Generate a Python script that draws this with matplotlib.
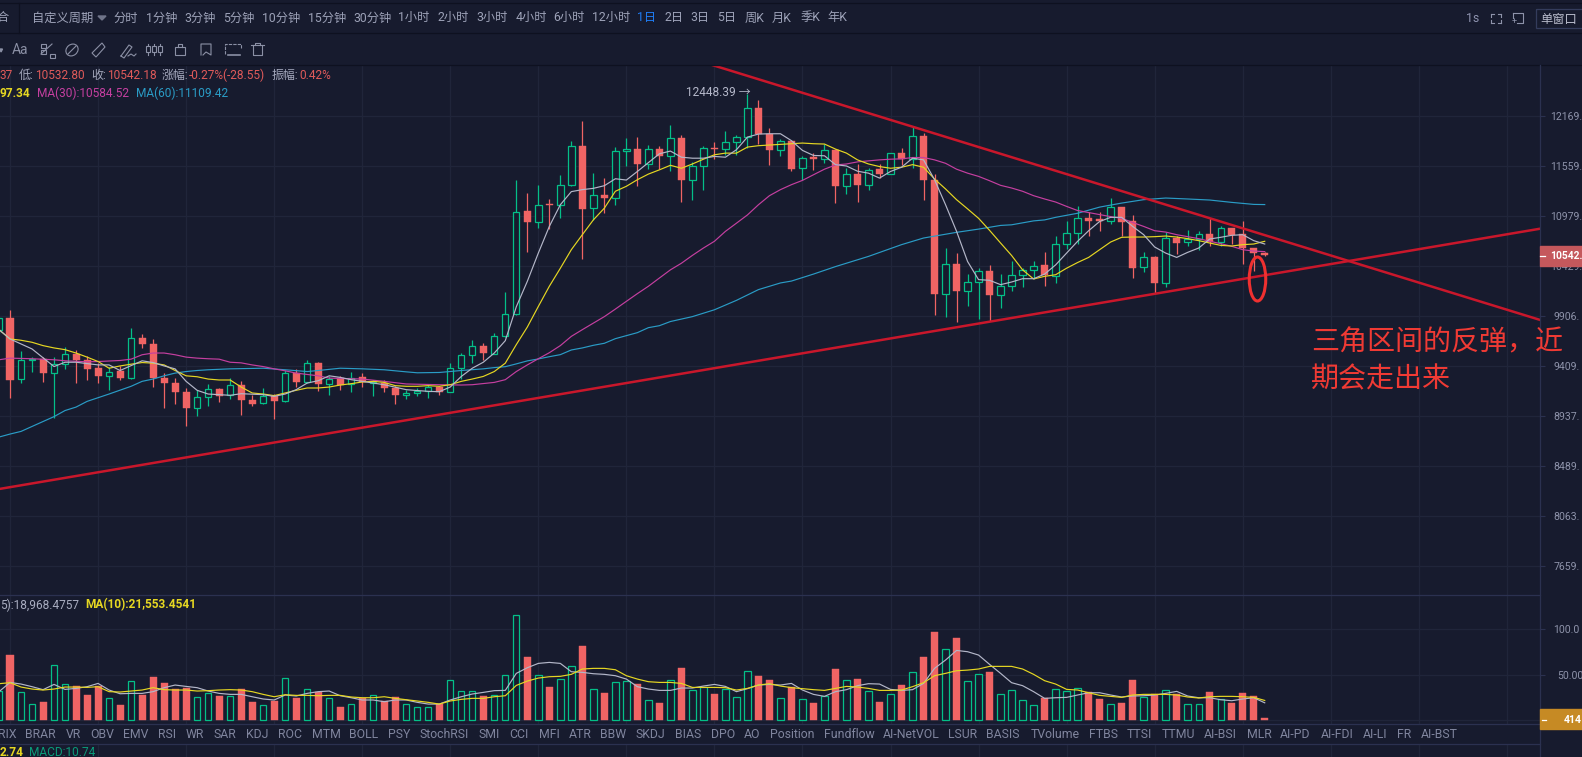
import matplotlib
matplotlib.use('Agg')
import matplotlib.pyplot as plt
from matplotlib.patches import Ellipse, Rectangle, Polygon
from matplotlib.ticker import NullLocator

plt.rcParams['font.family'] = ['Roboto', 'Noto Sans CJK SC', 'DejaVu Sans']

W, H = 1582, 757
BG = '#171b2e'
GRID = '#20253a'
SEP = '#2b3150'
RED = '#f06464'
GREEN = '#04bf88'
WHITE = '#b4b7c9'
YELLOW = '#e6d722'
MAGENTA = '#c53fa0'
BLUE = '#2a9cc6'
TREND = '#c9172b'
NOTE = '#f03a34'
TXT = '#8e93aa'
MA_LW = 0.85

# dados dos candles
opens = [
    9767, 9883, 9283, 9465, 9479, 9340, 9426, 9525, 9465, 9387,
    9308, 9365, 9289, 9687, 9624, 9296, 9245, 9160, 9009, 9113,
    9188, 9135, 9226, 9085, 9053, 9119, 9075, 9343, 9251, 9436,
    9233, 9289, 9239, 9302, 9245, 9248, 9198, 9132, 9151, 9170,
    9204, 9160, 9387, 9515, 9608, 9528, 9707, 9923, 11037, 10909,
    11118, 11103, 11335, 11803, 11068, 11223, 11184, 11738, 11762, 11587,
    11762, 11677, 11900, 11393, 11555, 11774, 11762, 11852, 11908, 12275,
    11941, 11750, 11860, 11532, 11664, 11640, 11750, 11323, 11467, 11331,
    11521, 11463, 11713, 11644, 11925, 11397, 10136, 10451, 10164, 10258,
    10373, 10122, 10216, 10331, 10384, 10440, 10318, 10667, 10785, 10957,
    10942, 10928, 11080, 10924, 10415, 10524, 10244, 10733, 10686, 10726,
    10777, 10693, 10843, 10777, 10627, 10571,
]
closes = [
    9883, 9277, 9465, 9479, 9337, 9426, 9525, 9465, 9384, 9308,
    9355, 9289, 9684, 9621, 9289, 9242, 9157, 9006, 9113, 9188,
    9119, 9223, 9081, 9050, 9126, 9072, 9337, 9251, 9436, 9233,
    9283, 9229, 9296, 9251, 9255, 9195, 9129, 9148, 9167, 9204,
    9157, 9387, 9515, 9601, 9532, 9701, 9927, 11030, 10906, 11099,
    11099, 11331, 11799, 11064, 11219, 11180, 11738, 11762, 11587, 11762,
    11673, 11896, 11389, 11555, 11774, 11758, 11847, 11908, 12275, 11941,
    11746, 11860, 11528, 11660, 11640, 11750, 11320, 11463, 11331, 11517,
    11459, 11713, 11644, 11921, 11389, 10129, 10447, 10161, 10258, 10373,
    10119, 10213, 10328, 10384, 10433, 10328, 10667, 10785, 10953, 10928,
    10928, 11080, 10917, 10412, 10521, 10244, 10733, 10682, 10722, 10777,
    10693, 10843, 10766, 10620, 10565, 10542,
]
highs = [
    9899, 9969, 9558, 9495, 9495, 9495, 9591, 9568, 9502, 9436,
    9403, 9412, 9783, 9724, 9674, 9340, 9292, 9198, 9182, 9239,
    9198, 9292, 9261, 9135, 9195, 9144, 9372, 9378, 9469, 9445,
    9308, 9308, 9346, 9340, 9277, 9270, 9220, 9176, 9198, 9229,
    9220, 9436, 9535, 9661, 9634, 9734, 10157, 11389, 11242, 11339,
    11176, 11451, 11856, 12108, 11474, 11416, 11786, 11896, 11913, 11811,
    11795, 12059, 11937, 11612, 11795, 11852, 11986, 11937, 12448, 12376,
    12026, 11884, 11864, 11681, 11713, 11819, 11762, 11540, 11583, 11540,
    11583, 11713, 11774, 12047, 11957, 11467, 10627, 10568, 10345, 10405,
    10440, 10345, 10487, 10405, 10484, 10579, 10752, 10928, 11095, 11030,
    11030, 11184, 11080, 10991, 10579, 10539, 10796, 10752, 10825, 10807,
    10953, 10862, 10843, 10920, 10627, 10575,
]
lows = [
    9734, 9100, 9245, 9352, 9251, 8916, 9378, 9245, 9277, 9245,
    9176, 9277, 9283, 9581, 9204, 9015, 9050, 8841, 8940, 9031,
    9069, 9094, 8943, 9031, 9050, 8913, 9062, 9207, 9245, 9167,
    9129, 9182, 9163, 9204, 9119, 9163, 9050, 9094, 9126, 9100,
    9135, 9157, 9286, 9442, 9469, 9525, 9697, 9915, 10575, 10840,
    10832, 10961, 11320, 10506, 10935, 11018, 11107, 11559, 11327, 11521,
    11528, 11494, 11134, 11157, 11273, 11640, 11693, 11693, 11774, 11823,
    11575, 11673, 11494, 11389, 11513, 11591, 11126, 11227, 11134, 11281,
    11420, 11459, 11571, 11532, 11165, 9920, 9900, 9840, 10004, 9877,
    9854, 9983, 10161, 10206, 10290, 10220, 10248, 10612, 10671, 10752,
    10807, 10891, 10752, 10297, 10359, 10143, 10202, 10561, 10649, 10598,
    10641, 10641, 10671, 10451, 10377, 10532,
]

# médias móveis do preço
ma5_idx = [0, 1, 3, 5, 6, 7, 9, 10, 11, 12, 13, 14, 15, 16, 17, 18, 19, 21, 22, 24,
           25, 26, 27, 28, 29, 30, 31, 32, 33, 35, 37, 39, 40, 41, 42, 43, 44, 45] + list(range(46, 116))
ma5 = [
    9767, 9674, 9575, 9403, 9445, 9445, 9419, 9419, 9365, 9412,
    9459, 9442, 9409, 9381, 9261, 9176, 9141, 9129, 9144, 9135,
    9119, 9141, 9182, 9245, 9267, 9314, 9299, 9277, 9261, 9229,
    9182, 9166, 9163, 9207, 9308, 9387, 9445, 9535,
    9657, 10000, 10265, 10568, 10862, 11107, 11258, 11281, 11296, 11327,
    11408, 11393, 11494, 11599, 11705, 11738, 11664, 11652, 11652, 11673,
    11664, 11754, 11908, 11945, 11949, 11949, 11864, 11746, 11685, 11681,
    11575, 11559, 11497, 11474, 11416, 11494, 11544, 11652, 11632, 11397,
    11107, 10807, 10477, 10283, 10276, 10230, 10258, 10293, 10293, 10342,
    10440, 10568, 10697, 10814, 10917, 10964, 10964, 10862, 10770, 10634,
    10568, 10521, 10576, 10623, 10722, 10741, 10763, 10770, 10704, 10667,
]
ma10 = [
    9767, 9674, 9661, 9641, 9608, 9585, 9568, 9535, 9495, 9452,
    9387, 9409, 9426, 9442, 9436, 9419, 9365, 9314, 9305, 9283,
    9274, 9274, 9207, 9151, 9141, 9126, 9151, 9176, 9198, 9198,
    9207, 9226, 9239, 9255, 9261, 9251, 9220, 9214, 9214, 9220,
    9214, 9229, 9261, 9283, 9308, 9355, 9436, 9618, 9793, 10003,
    10213, 10404, 10605, 10770, 10935, 11068, 11262, 11320, 11397, 11463,
    11513, 11567, 11532, 11583, 11640, 11693, 11713, 11713, 11786, 11803,
    11811, 11819, 11827, 11835, 11827, 11823, 11762, 11713, 11632, 11583,
    11552, 11532, 11544, 11575, 11544, 11405, 11289, 11165, 11060, 10953,
    10818, 10678, 10542, 10387, 10290, 10318, 10335, 10405, 10466, 10521,
    10605, 10689, 10741, 10744, 10744, 10748, 10755, 10744, 10726, 10704,
    10678, 10652, 10645, 10660, 10667, 10697,
]
ma30_idx = [0, 1, 3, 5, 6, 8, 9, 11, 12, 13, 14, 15, 16, 17, 18, 19, 20, 21, 22, 23,
            24, 25, 26, 27, 29, 30, 32, 33, 35, 37, 40, 42, 43] + list(range(44, 116))
ma30 = [
    9469, 9485, 9479, 9469, 9459, 9449, 9452, 9462, 9475, 9518,
    9535, 9535, 9518, 9495, 9485, 9479, 9475, 9445, 9439, 9419,
    9403, 9381, 9362, 9340, 9314, 9292, 9286, 9283, 9261, 9236,
    9229, 9226, 9229,
    9240, 9251, 9277, 9355, 9419, 9479, 9538, 9608, 9700, 9767,
    9833, 9899, 9976, 10056, 10136, 10213, 10300, 10387, 10458, 10543,
    10623, 10697, 10807, 10898, 10991, 11107, 11211, 11281, 11339, 11389,
    11455, 11521, 11571, 11583, 11608, 11620, 11632, 11640, 11644, 11660,
    11660, 11632, 11591, 11521, 11474, 11436, 11385, 11331, 11300, 11262,
    11211, 11173, 11138, 11088, 11041, 11018, 10995, 10972, 10953, 10906,
    10862, 10814, 10799, 10770, 10748, 10726, 10697, 10671, 10642, 10605,
    10590, 10584,
]
ma60_idx = [0, 1, 2, 3, 5, 6, 7, 8, 10, 12, 13, 14, 15, 16, 17, 18, 19, 21, 24, 26,
            28, 29, 31, 33, 35, 37, 38, 40, 42] + list(range(44, 62)) + [
            63, 65, 67, 69, 71, 72, 74, 76, 79, 82, 84, 87, 89, 91, 92, 94, 95, 96,
            98, 100, 102, 104, 106, 108, 110, 112, 114, 115]
ma60 = [
    8745, 8772, 8796, 8841, 8931, 8987, 9019, 9072, 9141, 9214,
    9261, 9283, 9314, 9340, 9355, 9365, 9372, 9381, 9387, 9372,
    9355, 9365, 9387, 9381, 9372, 9352, 9343, 9346, 9365,
    9381, 9393, 9402, 9429, 9458, 9477, 9499, 9519, 9565, 9585,
    9611, 9631, 9677, 9707, 9737, 9787, 9807, 9849,
    9899, 9969, 10066, 10178, 10248, 10268, 10342, 10422, 10532, 10660,
    10733, 10796, 10832, 10873, 10880, 10924, 10935, 10964, 11010, 11080,
    11126, 11165, 11184, 11173, 11161, 11134, 11111, 11109,
]

# volume
volume = [
    32.0, 71.7, 30.5, 17.3, 19.9, 60.3, 39.3, 37.1, 27.6, 37.1,
    23.9, 16.5, 42.6, 27.6, 47.4, 40.8, 33.8, 35.3, 25.0, 29.4,
    26.5, 26.1, 34.2, 19.9, 16.2, 21.0, 46.0, 24.6, 33.8, 30.5,
    23.9, 14.3, 17.3, 24.6, 27.2, 20.6, 25.0, 17.3, 14.0, 14.0,
    17.3, 43.8, 31.6, 31.6, 26.5, 27.6, 49.3, 115.4, 69.5, 49.3,
    36.4, 44.9, 59.2, 81.6, 33.8, 29.8, 41.5, 42.6, 39.7, 21.7,
    18.8, 43.8, 57.4, 32.7, 36.0, 28.7, 33.8, 25.0, 53.7, 48.5,
    44.1, 23.9, 36.4, 22.8, 18.8, 26.5, 56.3, 43.8, 45.2, 31.6,
    19.9, 28.3, 38.6, 52.6, 69.5, 97.1, 77.9, 90.4, 42.6, 50.4,
    52.9, 28.3, 32.7, 21.7, 16.2, 23.9, 33.8, 32.4, 34.9, 30.5,
    23.2, 17.3, 18.8, 44.1, 25.4, 28.3, 32.7, 28.3, 17.3, 17.3,
    30.9, 22.8, 18.8, 29.8, 26.5, 2.2,
]
vol_ma5 = [
    31.3, 41.5, 39.7, 36.8, 33.5, 39.3, 33.8, 34.9, 36.8, 40.4,
    33.1, 29.0, 29.4, 29.4, 31.3, 35.7, 38.6, 37.1, 35.7, 32.0,
    29.4, 28.3, 28.3, 25.7, 23.2, 22.1, 27.6, 26.5, 29.4, 31.3,
    32.0, 26.8, 24.6, 22.1, 22.1, 20.2, 22.1, 22.1, 19.5, 17.6,
    17.6, 22.1, 25.7, 28.7, 30.5, 32.4, 32.7, 51.5, 57.7, 62.5,
    63.6, 62.5, 53.3, 52.6, 51.1, 50.4, 48.9, 45.2, 36.8, 34.2,
    32.7, 32.7, 35.3, 35.3, 37.5, 39.3, 37.1, 31.3, 34.6, 38.6,
    39.3, 38.6, 40.4, 33.1, 28.3, 26.1, 31.3, 33.5, 37.9, 40.1,
    39.7, 33.8, 32.7, 33.5, 40.4, 57.0, 66.2, 76.8, 75.4, 71.7,
    61.4, 51.5, 41.2, 37.9, 31.3, 23.9, 24.6, 25.0, 27.6, 30.1,
    30.1, 27.6, 25.4, 26.5, 26.8, 27.6, 29.4, 31.6, 26.5, 24.6,
    24.6, 22.4, 21.3, 23.2, 24.6, 19.0,
]
vol_ma10 = [
    40.1, 41.2, 36.4, 34.2, 33.1, 34.2, 36.4, 36.4, 36.0, 36.8,
    31.3, 30.9, 32.0, 33.1, 35.7, 33.5, 33.1, 33.1, 32.0, 32.4,
    33.1, 33.5, 33.1, 31.3, 28.3, 25.7, 27.9, 27.2, 27.2, 26.8,
    27.2, 27.2, 25.4, 24.6, 24.6, 25.7, 23.9, 22.4, 21.0, 19.5,
    17.6, 21.0, 22.8, 23.9, 23.9, 25.7, 26.8, 38.2, 43.0, 46.3,
    47.8, 48.2, 50.4, 56.3, 57.0, 57.0, 55.5, 48.9, 45.2, 42.3,
    41.5, 41.5, 40.4, 36.0, 36.0, 36.0, 35.7, 33.1, 34.9, 38.6,
    40.1, 37.5, 35.7, 34.6, 33.5, 32.7, 34.9, 37.1, 36.4, 34.9,
    32.7, 32.7, 33.1, 36.8, 41.2, 48.9, 51.5, 54.4, 55.1, 56.3,
    59.2, 59.2, 59.2, 56.3, 50.4, 43.4, 39.7, 33.8, 33.1, 30.1,
    27.2, 26.1, 25.0, 27.6, 28.3, 28.3, 28.3, 27.6, 25.4, 24.3,
    25.7, 26.1, 26.1, 25.7, 25.0, 21.6,
]

price_ticks = [12169, 11559, 10979, 10429, 9906, 9409, 8937, 8489, 8063, 7659]
price_labels = ['12169.', '11559.', '10979.', '10429.', '9906.', '9409.', '8937.', '8489.', '8063.', '7659.']
grid_idx = list(range(1, 140, 8))

# linhas de tendência desenhadas à mão (índice, preço)
trend_up_x = [0.09, 140.0]
trend_up_y = [8291, 10836]
trend_down_x = [64.8, 140.0]
trend_down_y = [12825, 9866]

tabs = ['RIX', 'BRAR', 'VR', 'OBV', 'EMV', 'RSI', 'WR', 'SAR', 'KDJ', 'ROC', 'MTM', 'BOLL', 'PSY',
        'StochRSI', 'SMI', 'CCI', 'MFI', 'ATR', 'BBW', 'SKDJ', 'BIAS', 'DPO', 'AO', 'Position',
        'Fundflow', 'AI-NetVOL', 'LSUR', 'BASIS', 'TVolume', 'FTBS', 'TTSI', 'TTMU', 'AI-BSI',
        'MLR', 'AI-PD', 'AI-FDI', 'AI-LI', 'FR', 'AI-BST']
tabs_x = [7, 40, 73, 102, 136, 167, 195, 225, 257, 290, 326, 364, 399, 444, 489, 519, 549, 580,
          613, 650, 688, 723, 752, 792, 849, 911, 963, 1003, 1055, 1103, 1139, 1178, 1220, 1259,
          1295, 1337, 1375, 1404, 1439]
periods = ['分时', '1分钟', '3分钟', '5分钟', '10分钟', '15分钟', '30分钟', '1小时', '2小时', '3小时',
           '4小时', '6小时', '12小时', '1日', '2日', '3日', '5日', '周K', '月K', '季K', '年K']
periods_x = [126, 162, 200, 239, 281, 327, 372, 414, 453, 492, 531, 569, 611, 647, 674, 700, 727,
             755, 782, 810, 837]


def px_axes(x0, y0, x1, y1):
    a = fig.add_axes([x0 / W, 1 - y1 / H, (x1 - x0) / W, (y1 - y0) / H])
    a.set_facecolor('none')
    for s in a.spines.values():
        s.set_visible(False)
    return a


def base_grid(a):
    a.set_xlim(0.09, 140.01)
    a.set_xticks(grid_idx)
    a.set_xticklabels([])
    a.tick_params(axis='x', length=0)
    a.grid(True, color=GRID, lw=0.9)
    a.set_axisbelow(True)
    a.yaxis.tick_right()


fig = plt.figure(figsize=(W / 100, H / 100), dpi=100, facecolor=BG)

# painel de preço
ax = px_axes(0, 65, 1540, 595)
base_grid(ax)
ax.set_yscale('log')
ax.set_ylim(7433, 12825)
ax.set_yticks(price_ticks)
ax.set_yticklabels(price_labels)
ax.yaxis.set_minor_locator(NullLocator())
ax.tick_params(axis='y', which='major', length=3.6, color=SEP, labelcolor=TXT, labelsize=7.6, pad=3.6)
for t, p in zip(ax.yaxis.get_major_ticks(), price_ticks):
    if p < 10000:
        t.set_pad(5.8)

idx = list(range(len(opens)))
up = [c >= o for o, c in zip(opens, closes)]
wick_col = [GREEN if u else RED for u in up]
ax.vlines(idx, lows, highs, colors=wick_col, lw=0.9, zorder=3)
for i, o, c, u in zip(idx, opens, closes, up):
    low, high = min(o, c), max(o, c)
    if u:
        ax.bar(i, high - low, bottom=low, width=0.58, facecolor=BG, edgecolor=GREEN, lw=0.9, zorder=4)
    else:
        ax.bar(i, high - low, bottom=low, width=0.64, facecolor=RED, edgecolor=RED, lw=0.3, zorder=4)

ax.plot(ma60_idx, ma60, color=BLUE, lw=MA_LW, zorder=5)
ax.plot(ma30_idx, ma30, color=MAGENTA, lw=MA_LW, zorder=5)
ax.plot(idx, ma10, color=YELLOW, lw=MA_LW, zorder=6)
ax.plot(ma5_idx, ma5, color=WHITE, lw=MA_LW, zorder=6)
ax.plot(trend_up_x, trend_up_y, color=TREND, lw=1.8, zorder=7)
ax.plot(trend_down_x, trend_down_y, color=TREND, lw=1.8, zorder=7)

# painel de volume
vx = px_axes(0, 595, 1540, 724)
base_grid(vx)
vx.set_ylim(-4.4, 138)
vx.set_yticks([0, 50, 100])
vx.set_yticklabels(['', '50.00', '100.0'])
vx.tick_params(axis='y', length=3.6, color=SEP, labelcolor=TXT, labelsize=7.6, pad=5.8)
vx.yaxis.get_major_ticks()[1].set_pad(8.6)
for i, v, u in zip(idx, volume, up):
    if u:
        vx.bar(i, v, width=0.58, facecolor=BG, edgecolor=GREEN, lw=0.9, zorder=3)
    else:
        vx.bar(i, v, width=0.64, facecolor=RED, edgecolor=RED, lw=0.3, zorder=3)
vx.plot(idx, vol_ma5, color=WHITE, lw=MA_LW, zorder=5)
vx.plot(idx, vol_ma10, color=YELLOW, lw=MA_LW, zorder=5)

# faixa do MACD embaixo
mx = px_axes(0, 744, 1540, 757)
base_grid(mx)
mx.set_yticks([])
mx.set_ylim(0, 1)

# camada da interface em pixels
ui = fig.add_axes([0, 0, 1, 1], zorder=10)
ui.set_xlim(0, W)
ui.set_ylim(H, 0)
ui.axis('off')
ui.patch.set_visible(False)


def label(x, y, s, color=TXT, size=8.8, ha='left', weight='normal'):
    ui.text(x, y, s, color=color, fontsize=size, ha=ha, va='center', fontweight=weight)


# separadores
for y in [3, 33, 65]:
    ui.plot([0, W], [y, y], color='#0e1120', lw=0.9)
for y in [595, 724, 744]:
    ui.plot([0, 1540], [y, y], color=SEP, lw=0.9)
ui.plot([1540, 1540], [65, H], color=SEP, lw=0.9)
ui.plot([19, 19], [3, 33], color='#0e1120', lw=0.9)

# barra superior
label(3, 18, '合', '#9da2b8', 8.8, 'center')
label(32, 18, '自定义周期', '#9da2b8', 8.8)
ui.add_patch(Polygon([[98, 16], [106, 16], [102, 20]], closed=True, color='#6f7489'))
for s, x in zip(periods, periods_x):
    label(x, 18, s, '#1f7bf2' if s == '1日' else '#9da2b8', 8.8, 'center')
label(1473, 18, '1s', '#8f94b0', 8.8, 'center')
for cx, cy, dx, dy in [(1491, 14, 1, 1), (1501, 14, -1, 1), (1491, 23, 1, -1), (1501, 23, -1, -1)]:
    ui.plot([cx, cx + 3 * dx], [cy, cy], color='#8e93aa', lw=0.8)
    ui.plot([cx, cx], [cy, cy + 3 * dy], color='#8e93aa', lw=0.8)
ui.plot([1513, 1523, 1523, 1517], [13, 13, 23, 23], color='#8e93aa', lw=0.8)
ui.plot([1513, 1513], [13, 18], color='#8e93aa', lw=0.8)
ui.text(1514, 22, '+', color='#8e93aa', fontsize=6.5, ha='center', va='center')
ui.add_patch(Rectangle((1536, 9), 50, 19, fill=False, edgecolor='#343c5c', lw=0.9))
label(1559, 19, '单窗口', '#b9bccc', 8.8, 'center')

# ferramentas de desenho
ic = '#8b90a5'
ui.add_patch(Polygon([[0, 49], [2.5, 49], [1, 52]], closed=True, color=ic))
label(12, 50, 'Aa', ic, 10)
for x, y in [(41, 44), (41, 50), (50, 54)]:
    ui.add_patch(Rectangle((x, y), 4.5, 4, fill=False, edgecolor=ic, lw=0.8))
ui.plot([41, 52], [54, 44], color=ic, lw=0.8)
ui.add_patch(Ellipse((72, 50), 13, 11, angle=-40, fill=False, edgecolor=ic, lw=0.8))
ui.plot([68, 76], [54, 46], color=ic, lw=0.8)
ui.add_patch(Polygon([[92, 53], [102, 43], [105, 47], [96, 57]], closed=True, fill=False, edgecolor=ic, lw=0.8))
ui.plot([121, 129, 132, 124, 121], [56, 45, 47, 58, 56], color=ic, lw=0.8)
ui.plot([128, 131, 134, 136], [56, 54, 56, 54], color=ic, lw=0.8)
for x in [148, 154, 160]:
    ui.plot([x, x], [44, 55], color=ic, lw=0.8)
    ui.add_patch(Rectangle((x - 2, 46), 4, 6, facecolor=BG, edgecolor=ic, lw=0.8, zorder=3))
ui.add_patch(Rectangle((175, 47), 10, 8, fill=False, edgecolor=ic, lw=0.8))
ui.plot([178, 178, 182, 182], [47, 44, 44, 47], color=ic, lw=0.8)
ui.plot([201, 201, 211, 211, 206, 203], [55, 44, 44, 55, 52, 55], color=ic, lw=0.8)
ui.plot([225, 225, 241, 241], [54, 44, 44, 48], color=ic, lw=0.8, ls=(0, (3, 1)))
ui.plot([228, 240], [55, 55], color=ic, lw=1.2)
ui.plot([251, 264], [45, 45], color=ic, lw=0.8)
ui.plot([253, 253, 262, 262], [45, 55, 55, 45], color=ic, lw=0.8)
ui.plot([255, 255, 260, 260], [45, 43, 43, 45], color=ic, lw=0.8)

# cabeçalho do candle
c_up = '#e05a5a'
label(0, 75.7, '37', c_up, 8.6)
label(19, 75.7, '低:', '#a4a8bc', 8.6)
label(35, 75.7, '10532.80', c_up, 8.6)
label(91, 75.7, '收:', '#a4a8bc', 8.6)
label(107, 75.7, '10542.18', c_up, 8.6)
label(162, 75.7, '涨幅:', '#a4a8bc', 8.6)
label(189, 75.7, '-0.27%(-28.55)', c_up, 8.6)
label(272, 75.7, '振幅:', '#a4a8bc', 8.6)
label(299, 75.7, '0.42%', c_up, 8.6)
label(0, 93.5, '97.34', YELLOW, 8.6, weight='bold')
label(37, 93.5, 'MA(30):10584.52', MAGENTA, 8.6)
label(136, 93.5, 'MA(60):11109.42', BLUE, 8.6)
label(686, 93, '12448.39 →', '#b4b7c9', 8.6)

# cabeçalho do volume e MACD
label(0, 605, '5):18,968.4757', '#a9adc0', 8.6)
label(85, 605, 'MA(10):21,553.4541', YELLOW, 8.6, weight='bold')
label(0, 752, '2.74', YELLOW, 8.6, weight='bold')
label(29, 752, 'MACD:10.74', '#0a9a78', 8.6)

for s, x in zip(tabs, tabs_x):
    label(x, 734.5, s, '#80859e', 8.8, 'center')

# caixas de preço atual
ui.add_patch(Rectangle((1540, 246), 42, 20, color='#c5585c', zorder=3))
ui.plot([1540, 1545], [256, 256], color='white', lw=0.9, zorder=4)
ui.text(1550, 256, '10542.', color='white', fontsize=7.4, fontweight='bold', va='center', zorder=4)
ui.add_patch(Rectangle((1540, 709), 42, 20, color='#c68a24', zorder=3))
ui.plot([1542, 1546], [720, 720], color='white', lw=0.9, zorder=4)
ui.text(1564, 720, '414', color='white', fontsize=7.6, fontweight='bold', va='center', zorder=4)

# anotação
ui.add_patch(Ellipse((1257.5, 279), 16.5, 44, fill=False, edgecolor='#f03030', lw=2.2))
ui.text(1311, 343, '三角区间的反弹，近', color=NOTE, fontsize=20.2, va='center')
ui.text(1311, 380, '期会走出来', color=NOTE, fontsize=20.2, va='center')

fig.savefig('out.png', dpi=100, facecolor=BG)
